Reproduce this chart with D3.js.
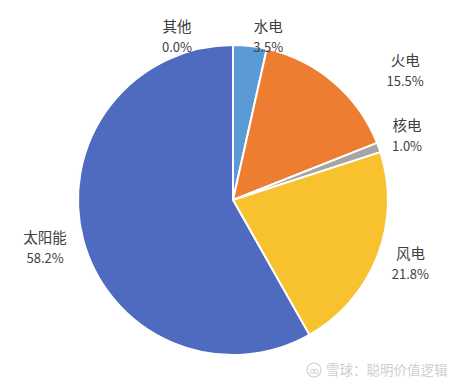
<!DOCTYPE html>
<html>
<head>
<meta charset="utf-8">
<script src="https://cdn.jsdelivr.net/npm/d3@7"></script>
<style>
  body { margin: 0; background: #fff; }
  svg { display: block; font-family: "Noto Sans CJK SC", "Noto Sans", sans-serif; }
</style>
</head>
<body>
<div id="chart"></div>
<script>
// 发电结构饼图
const categories = ['水电', '火电', '核电', '风电', '太阳能', '其他'];
const shares = [3.5, 15.5, 1.0, 21.8, 58.2, 0.0];
const colors = ['#5B9BD5', '#ED7D31', '#A5A5A5', '#F8C22E', '#4F6BBF', '#7F7F7F'];
// 标签微调 (像素)
const labelNudge = [[15, 21], [52, 12], [0, -1], [5, -3], [-9, 1], [-56, 22]];

const W = 461, H = 386;
const cx = 233, cy = 200, radius = 155;

const data = categories.map((c, i) => ({ name: c, value: shares[i], color: colors[i], nudge: labelNudge[i] }));

const svg = d3.select('#chart').append('svg')
    .attr('width', W)
    .attr('height', H);

const g = svg.append('g')
    .attr('transform', `translate(${cx},${cy})`);

const pie = d3.pie()
    .sort(null)
    .value(d => d.value);

const arc = d3.arc()
    .innerRadius(0)
    .outerRadius(radius);

const labelArc = d3.arc()
    .innerRadius(185)
    .outerRadius(185);

const arcs = pie(data);

g.selectAll('path')
    .data(arcs.filter(d => d.data.value > 0))
    .enter().append('path')
    .attr('d', arc)
    .attr('fill', d => d.data.color)
    .attr('stroke', '#fff')
    .attr('stroke-width', 2)
    .attr('stroke-linejoin', 'round');

const labels = g.selectAll('.label')
    .data(arcs)
    .enter().append('g')
    .attr('class', 'label')
    .attr('transform', d => {
        const [x, y] = labelArc.centroid(d);
        return `translate(${x + d.data.nudge[0]},${y + d.data.nudge[1]})`;
    });

labels.append('text')
    .attr('text-anchor', 'middle')
    .attr('y', -5)
    .style('font-size', '14.5px')
    .attr('fill', '#404040')
    .text(d => d.data.name);

labels.append('text')
    .attr('text-anchor', 'middle')
    .attr('y', 15)
    .style('font-size', '13px')
    .attr('fill', '#404040')
    .text(d => d.data.value.toFixed(1) + '%');

// 水印
const wm = svg.append('g')
    .attr('transform', 'translate(314,370)');

wm.append('circle')
    .attr('r', 7)
    .attr('fill', 'none')
    .attr('stroke', '#cfcfcf')
    .attr('stroke-width', 1.2);

wm.append('text')
    .attr('x', 0)
    .attr('y', 3.5)
    .attr('text-anchor', 'middle')
    .style('font-size', '9px')
    .attr('fill', '#cfcfcf')
    .text('ꝏ');

wm.append('text')
    .attr('x', 12)
    .attr('y', 5)
    .style('font-size', '13.5px')
    .attr('fill', '#cfcfcf')
    .text('雪球：聪明价值逻辑');
</script>
</body>
</html>
